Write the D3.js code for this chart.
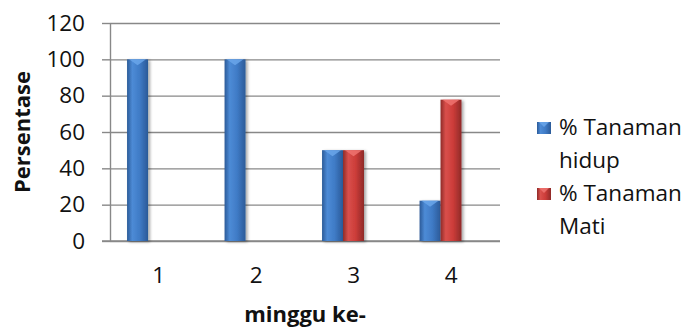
<!DOCTYPE html>
<html>
<head>
<meta charset="utf-8">
<script src="https://cdn.jsdelivr.net/npm/d3@7"></script>
<style>
  html, body { margin: 0; padding: 0; background: #fff; }
  svg { display: block; font-family: "Open Sans", sans-serif; }
</style>
</head>
<body>
<svg id="chart" width="686" height="329"></svg>
<script>
const weeks = ['1', '2', '3', '4'];
const hidup = [100, 100, 50, 22.2];
const mati = [0, 0, 50, 77.8];
const yTicks = [0, 20, 40, 60, 80, 100, 120];
const seriesNames = [['% Tanaman', 'hidup'], ['% Tanaman', 'Mati']];

const plot = { left: 110, right: 500, top: 23, bottom: 241 };

const svg = d3.select('#chart');

const defs = svg.append('defs');
const makeGrad = (id, edge, mid, light) => {
  const g = defs.append('linearGradient').attr('id', id)
    .attr('x1', '0%').attr('x2', '100%').attr('y1', '0%').attr('y2', '0%');
  g.append('stop').attr('offset', '0%').attr('stop-color', edge);
  g.append('stop').attr('offset', '25%').attr('stop-color', light);
  g.append('stop').attr('offset', '60%').attr('stop-color', mid);
  g.append('stop').attr('offset', '100%').attr('stop-color', edge);
};
makeGrad('gBlue', '#2b5a98', '#3f7bc6', '#4d8bd6');
makeGrad('gRed', '#8f2a28', '#cc3c39', '#d9504c');
const shadow = defs.append('filter').attr('id', 'shadow')
  .attr('x', '-30%').attr('y', '-10%').attr('width', '160%').attr('height', '130%');
shadow.append('feDropShadow').attr('dx', 2).attr('dy', 1).attr('stdDeviation', 1.5)
  .attr('flood-color', '#000').attr('flood-opacity', 0.35);

const x = d3.scaleBand().domain(weeks).range([plot.left, plot.right]).padding(0);
const y = d3.scaleLinear().domain([0, 120]).range([plot.bottom, plot.top]);

// gridlines
const grid = svg.append('g')
  .attr('transform', `translate(${plot.left},0)`)
  .call(d3.axisLeft(y).tickValues(yTicks).tickSize(-(plot.right - plot.left)).tickFormat(''));
grid.select('.domain').remove();
grid.selectAll('line').attr('stroke', '#888').attr('stroke-width', 1.4);

// y axis
const yAxis = svg.append('g')
  .attr('transform', `translate(${plot.left},0)`)
  .call(d3.axisLeft(y).tickValues(yTicks).tickSize(8).tickSizeOuter(0).tickPadding(17));
yAxis.select('.domain').attr('stroke', '#888').attr('stroke-width', 1.4);
yAxis.selectAll('line').attr('stroke', '#888').attr('stroke-width', 1.4);
yAxis.selectAll('text').attr('font-size', 22.5).attr('fill', '#111')
  .attr('font-family', '"Open Sans", sans-serif');

// x axis line
svg.append('line')
  .attr('x1', plot.left - 8).attr('x2', plot.right)
  .attr('y1', y(0)).attr('y2', y(0))
  .attr('stroke', '#888').attr('stroke-width', 1.4);

// x labels
const xAxis = svg.append('g')
  .attr('transform', `translate(0,${y(0)})`)
  .call(d3.axisBottom(x).tickSize(0).tickPadding(26));
xAxis.select('.domain').remove();
xAxis.selectAll('text').attr('font-size', 22.5).attr('fill', '#111')
  .attr('font-family', '"Open Sans", sans-serif');

// bars
const bw = x.bandwidth() * 0.215;
const depth = x.bandwidth() * 0.11;
const series = [
  { values: hidup, fill: 'url(#gBlue)', cap: '#6aa6ea', idx: 0 },
  { values: mati, fill: 'url(#gRed)', cap: '#ef7370', idx: 1 }
];

series.forEach(s => {
  const g = svg.append('g');
  const data = weeks.map((w, i) => ({ w, v: s.values[i] })).filter(d => d.v > 0);
  const bx = d => x(d.w) + x.bandwidth() / 2 - depth - bw + s.idx * bw;
  g.selectAll('rect').data(data).join('rect')
    .attr('x', bx)
    .attr('y', d => y(d.v))
    .attr('width', bw)
    .attr('height', d => y(0) - y(d.v))
    .attr('fill', s.fill)
    .attr('filter', 'url(#shadow)');
  g.selectAll('path').data(data).join('path')
    .attr('d', d => {
      const x0 = bx(d), t = y(d.v);
      return `M${x0 + 2},${t}L${x0 + bw - 2},${t}L${x0 + bw / 2},${t + 6}Z`;
    })
    .attr('fill', s.cap).attr('opacity', 0.85);
});

// axis titles
svg.append('text')
  .attr('transform', `translate(30,${(plot.top + plot.bottom) / 2}) rotate(-90)`)
  .attr('text-anchor', 'middle')
  .attr('font-size', 22).attr('font-weight', 'bold').attr('fill', '#111')
  .text('Persentase');

svg.append('text')
  .attr('x', (plot.left + plot.right) / 2).attr('y', 322)
  .attr('text-anchor', 'middle')
  .attr('font-size', 22).attr('font-weight', 'bold').attr('fill', '#111')
  .text('minggu ke-');

// legend
const legend = svg.append('g').attr('transform', 'translate(537,135)');
seriesNames.forEach((lines, i) => {
  const row = legend.append('g').attr('transform', `translate(0,${i * 66})`);
  row.append('rect')
    .attr('x', 0).attr('y', -13).attr('width', 14).attr('height', 12)
    .attr('fill', series[i].fill);
  row.append('path')
    .attr('d', 'M2,-13L12,-13L7,-8Z')
    .attr('fill', series[i].cap).attr('opacity', 0.85);
  lines.forEach((t, j) => {
    row.append('text')
      .attr('x', 22).attr('y', j * 33)
      .attr('font-size', 22.5).attr('fill', '#111')
      .text(t);
  });
});
</script>
</body>
</html>
